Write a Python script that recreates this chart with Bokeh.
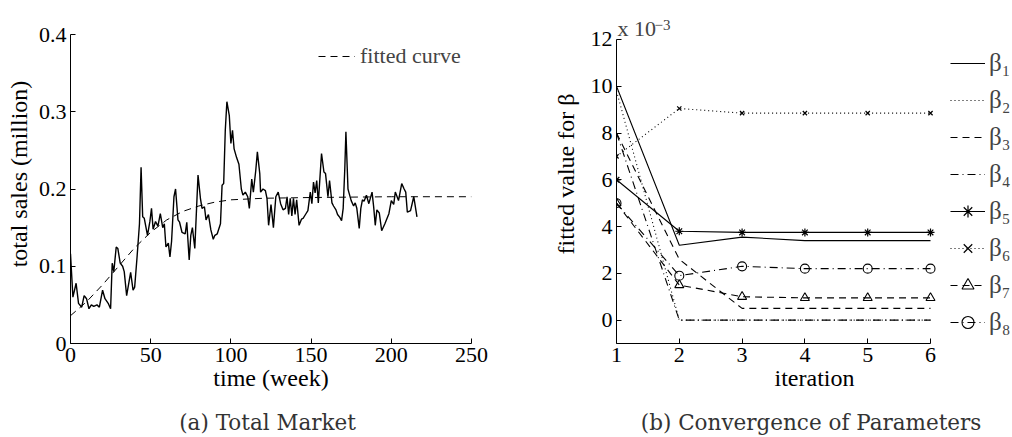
from bokeh.plotting import figure
from bokeh.layouts import row
from bokeh.models import Legend, LegendItem, Label, FixedTicker, LinearAxis
from bokeh.embed import file_html
from bokeh.resources import INLINE

# ---------------- data: (a) total market ----------------
weeks = [0, 1.5, 3.5, 5, 7, 8.5, 10, 11.5, 13, 14.5, 16.5, 18, 20, 21.5, 23.5, 25, 26, 27, 28.5, 29.5,
         31, 32.5, 33.5, 35, 36.5, 37.5, 39, 40, 41.5, 43, 44, 45, 46, 48, 49.5, 50.5, 51.5, 53, 54.5, 56,
         57.5, 58.5, 59.5, 61, 62, 63, 64.5, 65.5, 67, 68, 69.5, 71.5, 72.5, 74, 75, 76, 77.5, 79.5, 81, 82,
         83.5, 84.5, 86, 87.5, 89, 90, 91.5, 93.5, 94.5, 95.5, 96.5, 97.5, 99, 100, 101, 102, 103.5, 105, 106.5, 107.5,
         109, 110.5, 111.5, 113, 114, 115.5, 116.5, 118, 118.5, 120, 121.5, 122.5, 123.5, 125, 126.5, 128, 129.5, 131, 132.5, 134,
         135, 136, 137, 138, 139, 140, 141, 142.5, 144, 145, 146.5, 148, 149.5, 150.5, 151.5, 152.5, 153.5, 154.5, 156.5, 158,
         159, 160.5, 161.5, 163, 164, 165.5, 166.5, 168, 169, 170, 171, 171.7, 173, 173.5, 175, 176.5, 177.5, 178.5, 180, 181,
         182, 183, 184.5, 186, 188, 189, 190, 191, 192.5, 194, 196, 198.5, 200, 201.5, 202.5, 204.5, 206.5, 208, 209, 210,
         212, 214, 216]
sales = [0.116, 0.060, 0.078, 0.052, 0.047, 0.062, 0.058, 0.045, 0.050, 0.048, 0.050, 0.047, 0.069, 0.058, 0.052, 0.045, 0.104, 0.093, 0.125, 0.123,
         0.104, 0.100, 0.093, 0.062, 0.080, 0.092, 0.069, 0.073, 0.112, 0.155, 0.228, 0.164, 0.162, 0.140, 0.158, 0.175, 0.148, 0.158, 0.152, 0.168,
         0.150, 0.155, 0.125, 0.130, 0.112, 0.132, 0.190, 0.200, 0.160, 0.157, 0.144, 0.142, 0.157, 0.108, 0.140, 0.150, 0.123, 0.218, 0.188, 0.175,
         0.177, 0.160, 0.167, 0.147, 0.135, 0.140, 0.142, 0.155, 0.205, 0.207, 0.276, 0.313, 0.295, 0.259, 0.276, 0.252, 0.241, 0.232, 0.200, 0.192,
         0.196, 0.190, 0.175, 0.213, 0.196, 0.224, 0.248, 0.220, 0.196, 0.200, 0.198, 0.188, 0.153, 0.180, 0.150, 0.190, 0.196, 0.181, 0.173, 0.175,
         0.190, 0.167, 0.188, 0.165, 0.188, 0.167, 0.186, 0.153, 0.161, 0.162, 0.167, 0.172, 0.196, 0.181, 0.209, 0.195, 0.211, 0.182, 0.246, 0.222,
         0.220, 0.190, 0.211, 0.182, 0.178, 0.173, 0.167, 0.163, 0.159, 0.175, 0.226, 0.274, 0.200, 0.196, 0.185, 0.178, 0.182, 0.175, 0.149, 0.175,
         0.186, 0.184, 0.192, 0.181, 0.196, 0.177, 0.153, 0.173, 0.169, 0.146, 0.155, 0.168, 0.185, 0.180, 0.196, 0.185, 0.207, 0.200, 0.196, 0.170,
         0.172, 0.190, 0.164]
fit_weeks = [0, 10, 20, 30, 40, 50, 60, 70, 80, 90, 100, 120, 150, 200, 250]
fit_sales = [0.036, 0.054, 0.076, 0.100, 0.124, 0.144, 0.160, 0.171, 0.178, 0.183, 0.186, 0.188, 0.189, 0.190, 0.190]

# ---------------- data: (b) convergence ----------------
iterations = [1, 2, 3, 4, 5, 6]
beta1 = [10.0, 3.2, 3.55, 3.4, 3.4, 3.4]
beta2 = [9.8, 0.0, 0.0, 0.0, 0.0, 0.0]
beta3 = [8.0, 2.6, 0.5, 0.5, 0.5, 0.5]
beta4 = [8.0, 0.0, 0.0, 0.0, 0.0, 0.0]
beta5 = [6.0, 3.8, 3.75, 3.75, 3.75, 3.75]
beta6 = [7.0, 9.05, 8.85, 8.85, 8.85, 8.85]
beta7 = [5.0, 1.5, 1.0, 0.95, 0.95, 0.95]
beta8 = [5.0, 1.9, 2.3, 2.2, 2.2, 2.2]
beta_labels = ["β₁", "β₂", "β₃", "β₄", "β₅", "β₆", "β₇", "β₈"]

SERIF = "Liberation Serif"
CAPTION_FONT = "DejaVu Serif"
TICK = "22px"
LAB = "24px"


def style_axes(p):
    for ax in (p.xaxis[0], p.yaxis[0]):
        ax.major_label_text_font = SERIF
        ax.major_label_text_font_size = TICK
        ax.major_label_text_color = "black"
        ax.axis_label_text_font = SERIF
        ax.axis_label_text_font_size = LAB
        ax.axis_label_text_font_style = "normal"
        ax.axis_label_text_color = "black"
        ax.major_tick_in = 5
        ax.major_tick_out = 0
        ax.minor_tick_line_color = None
        ax.axis_line_color = "black"
        ax.major_tick_line_color = "black"
        ax.major_label_standoff = 4
    p.grid.visible = False
    p.outline_line_color = None


def add_caption(p, text):
    cap = LinearAxis(axis_label=text, axis_line_color=None, major_tick_line_color=None,
                     minor_tick_line_color=None, major_label_text_font_size="0px",
                     major_label_standoff=0, axis_label_standoff=16,
                     axis_label_text_font=CAPTION_FONT, axis_label_text_font_size="21.5px",
                     axis_label_text_font_style="normal", axis_label_text_color="#333333",
                     ticker=FixedTicker(ticks=[]))
    p.add_layout(cap, "below")


# ---------------- left figure ----------------
pa = figure(width=540, height=437, x_range=(0, 250), y_range=(0, 0.4 + 30 / 772), title=None,
            output_backend="svg", toolbar_location=None,
            min_border_left=70, min_border_right=69, min_border_top=4, min_border_bottom=94)
style_axes(pa)
pa.yaxis.bounds = (0, 0.4)
pa.xaxis.ticker = FixedTicker(ticks=[0, 50, 100, 150, 200, 250])
pa.yaxis.ticker = FixedTicker(ticks=[0, 0.1, 0.2, 0.3, 0.4])
pa.xaxis.axis_label = "time (week)"
pa.yaxis.axis_label = "total sales (million)"
pa.xaxis.axis_label_standoff = 0
pa.yaxis.axis_label_standoff = 4

pa.line(weeks, sales, line_color="black", line_width=1.4)
fit_r = pa.line(fit_weeks, fit_sales, line_color="black", line_width=1, line_dash="7 5")
leg_a = Legend(items=[LegendItem(label="fitted curve", renderers=[fit_r])],
               location=(248, 274), padding=0, margin=0, border_line_color=None,
               background_fill_alpha=0, glyph_width=37, glyph_height=24, label_height=24,
               label_standoff=5, label_text_font=SERIF, label_text_font_size="22px")
pa.add_layout(leg_a)
add_caption(pa, "(a)  Total Market")

# ---------------- right figure ----------------
YTOP = 12 + 35 / 23.4
pb = figure(width=472, height=437, x_range=(1, 1 + (1012 - 616) / 62.8), y_range=(-1, YTOP), title=None,
            output_backend="svg", toolbar_location=None,
            min_border_left=76, min_border_right=0, min_border_top=4, min_border_bottom=94)
style_axes(pb)
pb.xaxis.bounds = (1, 6)
pb.yaxis.bounds = (-1, 12)
pb.xaxis.ticker = FixedTicker(ticks=iterations)
pb.yaxis.ticker = FixedTicker(ticks=[0, 2, 4, 6, 8, 10, 12])
pb.xaxis.axis_label = "iteration"
pb.yaxis.axis_label = "fitted value for β"
pb.xaxis.axis_label_standoff = 0
pb.yaxis.axis_label_standoff = 9

K = "black"
r1 = pb.line(iterations, beta1, line_color=K, line_width=1.1)
r2 = pb.line(iterations, beta2, line_color=K, line_width=1.1, line_dash="1 3")
r3 = pb.line(iterations, beta3, line_color=K, line_width=1.1, line_dash="7 5")
r4 = pb.line(iterations, beta4, line_color=K, line_width=1.1, line_dash="8 4 1 4")
r5 = pb.line(iterations, beta5, line_color=K, line_width=1.1)
m5 = pb.scatter(iterations, beta5, marker="asterisk", size=8, line_color=K, line_width=1.2)
r6 = pb.line(iterations, beta6, line_color=K, line_width=1.1, line_dash="1 3")
m6 = pb.scatter(iterations, beta6, marker="x", size=6, line_color=K, line_width=1.2)
r7 = pb.line(iterations, beta7, line_color=K, line_width=1.1, line_dash="7 5")
m7 = pb.scatter(iterations, beta7, marker="triangle", size=9, line_color=K, fill_color=None, line_width=1.1)
r8 = pb.line(iterations, beta8, line_color=K, line_width=1.1, line_dash="8 4 1 4")
m8 = pb.scatter(iterations, beta8, marker="circle", size=9, line_color=K, fill_color=None, line_width=1.1)

rends = [[r1], [r2], [r3], [r4], [r5, m5], [r6, m6], [r7, m7], [r8, m8]]
leg_b = Legend(items=[LegendItem(label=lab, renderers=rr) for lab, rr in zip(beta_labels, rends)],
               location=(334, 6), padding=0, margin=0, border_line_color=None,
               background_fill_alpha=0, glyph_width=35, glyph_height=30, label_height=30,
               spacing=7, label_standoff=4, label_text_font=SERIF, label_text_font_size="25px")
pb.add_layout(leg_b)

pb.add_layout(Label(x=1, y=12, text="x 10", x_offset=1, y_offset=-2, text_font=SERIF,
                    text_font_size="22px", text_baseline="bottom"))
pb.add_layout(Label(x=1, y=12, text="−3", x_offset=38, y_offset=9, text_font=SERIF,
                    text_font_size="15px", text_baseline="bottom"))
add_caption(pb, "(b)  Convergence of Parameters")

layout = row(pa, pb)
open("out.html", "w").write(file_html(layout, INLINE))
